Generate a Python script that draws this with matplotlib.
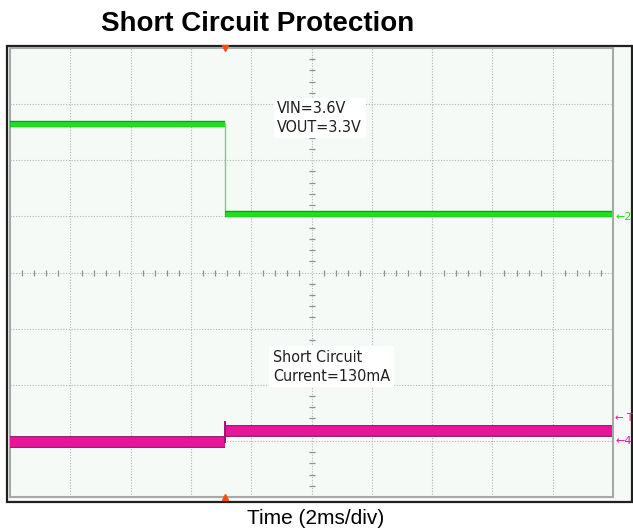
"""Scope capture: short circuit protection (VOUT and input current)."""
import matplotlib
matplotlib.use('Agg')
import matplotlib.pyplot as plt
import matplotlib.patheffects as pe
from matplotlib.patches import Rectangle

W, H = 633, 531

# time in divisions (-5..5), level in divisions (-4..4)
vout_t = [-5.0, -1.43, -1.43, 4.98]
vout_v = [2.645, 2.645, 1.04, 1.04]
iin_t = [-5.0, -1.43, -1.43, 4.98]
iin_v = [-3.02, -3.02, -2.83, -2.83]
iin_spike = -2.66
trig_t = -1.44

GREEN = '#1ee01e'
PINK = '#e8149b'
BG = '#f6faf6'
GRID = '#b4b4b4'
NARROW = ['DejaVu Sans']

fig = plt.figure(figsize=(W / 100, H / 100), dpi=100, facecolor='white')

# outer frame
fig.patches.append(Rectangle((7.5 / W, 1 - 501.5 / H), (632 - 7.5) / W, (501.5 - 45.5) / H,
                             transform=fig.transFigure, facecolor=BG, edgecolor='#202020',
                             linewidth=1.6, zorder=-1))

ax = fig.add_axes([10 / W, 1 - 497 / H, (613 - 10) / W, (497 - 48) / H])
ax.set_zorder(2)
ax.set_facecolor(BG)
ax.set_xlim(-5, 5)
ax.set_ylim(-4, 4)
ax.set_xticks([])
ax.set_yticks([])
for s in ax.spines.values():
    s.set_color('#a8a8a8')
    s.set_linewidth(1.5)

# graticule
for x in range(-4, 5):
    ax.axvline(x, color=GRID, lw=0.8, ls=(0, (1, 1.5)), zorder=1)
for y in range(-3, 4):
    ax.axhline(y, color=GRID, lw=0.8, ls=(0, (1, 1.5)), zorder=1)
minor_x = [i / 5 for i in range(-25, 26) if i % 5]
minor_y = [i / 5 for i in range(-20, 21) if i % 5]
ax.plot(minor_x, [0] * len(minor_x), '|', color='#909090', ms=4.5, mew=0.9, zorder=1)
ax.plot([0] * len(minor_y), minor_y, '_', color='#909090', ms=4.5, mew=0.9, zorder=1)

# traces
glow = [pe.withStroke(linewidth=4.6, foreground='#1a9a1a')]
ax.plot(vout_t[:2], vout_v[:2], color=GREEN, lw=3.4, path_effects=glow,
        solid_capstyle='butt', zorder=3)
ax.plot(vout_t[1:3], vout_v[1:3], color='#7ccc7c', lw=1, zorder=3)
ax.plot(vout_t[2:], vout_v[2:], color=GREEN, lw=3.4, path_effects=glow,
        solid_capstyle='butt', zorder=3)

edge = [pe.withStroke(linewidth=8.5, foreground='#8c1060')]
ax.plot(iin_t[:2], iin_v[:2], color=PINK, lw=7, path_effects=edge,
        solid_capstyle='butt', zorder=3)
ax.plot(iin_t[2:], iin_v[2:], color=PINK, lw=7, path_effects=edge,
        solid_capstyle='butt', zorder=3)
ax.plot([iin_t[1], iin_t[1]], [iin_v[1], iin_spike], color='#a01070', lw=1.4, zorder=3)

# trigger markers
ax.plot(trig_t, 4, 'v', color='#ff4a10', ms=4, clip_on=False, zorder=4)
ax.plot(trig_t, -4, '^', color='#ff4a10', ms=4, clip_on=False, zorder=4)

# channel markers on the right
ax.text(5.04, 0.98, '\u21902', color=GREEN, fontsize=8, ha='left', va='center',
        clip_on=False)
ax.text(5.04, -2.6, '\u2190 T', color=PINK, fontsize=7.5, ha='left', va='center',
        clip_on=False)
ax.text(5.04, -3.0, '\u21904', color=PINK, fontsize=8, ha='left', va='center',
        clip_on=False)

box = dict(facecolor='white', edgecolor='none', pad=2.5)
ax.text(-0.57, 3.05, 'VIN=3.6V\nVOUT=3.3V', fontsize=11.5, family=NARROW,
        fontstretch='condensed', color='#202020', ha='left', va='top',
        linespacing=1.3, bbox=box, zorder=5)
ax.text(-0.64, -1.38, 'Short Circuit\nCurrent=130mA', fontsize=11.5, family=NARROW,
        fontstretch='condensed', color='#202020', ha='left', va='top',
        linespacing=1.3, bbox=box, zorder=5)

fig.text(258 / W, 1 - 24 / H, 'Short Circuit Protection', fontsize=20, fontweight='bold',
         family='Liberation Sans', ha='center', va='center')
fig.text(316 / W, 1 - 518 / H, 'Time (2ms/div)', fontsize=15, family='Liberation Sans',
         ha='center', va='center')

fig.savefig('out.png', dpi=100, facecolor='white')
